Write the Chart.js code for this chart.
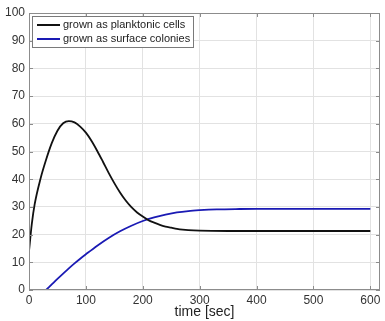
<!DOCTYPE html>
<html>
<head>
<meta charset="utf-8">
<script src="https://cdn.jsdelivr.net/npm/chart.js@4"></script>
<style>
  html, body { margin: 0; padding: 0; background: #fff; }
  #wrap { width: 385px; height: 321px; }
</style>
</head>
<body>
<div id="wrap"><canvas id="chart" width="385" height="321"></canvas></div>
<script>
// values
const planktonicTime = [0, 5, 10, 20, 30, 40, 50, 60, 70, 80, 90, 100, 110, 120, 130, 140, 150, 160, 170, 180, 190, 200, 210, 220, 230, 240, 250, 260, 270, 280, 300, 350, 400, 500, 600];
const planktonicVals = [14, 24, 31, 40, 47, 53, 57.5, 60.2, 61, 60.5, 59, 56.8, 53.8, 50.2, 46.3, 42.3, 38.6, 35.2, 32.3, 29.9, 28, 26.5, 25.2, 24.3, 23.5, 22.9, 22.5, 22.1, 21.8, 21.6, 21.4, 21.3, 21.3, 21.3, 21.3];
const colonyTime = [30, 40, 50, 60, 70, 80, 90, 100, 120, 140, 160, 180, 200, 220, 240, 260, 280, 300, 330, 370, 400, 500, 600];
const colonyVals = [0, 2, 4, 5.9, 7.8, 9.6, 11.3, 12.9, 16, 18.8, 21.2, 23.2, 24.9, 26.2, 27.2, 28, 28.5, 28.8, 29.1, 29.25, 29.3, 29.3, 29.3];
const seriesLabels = ['grown as planktonic cells', 'grown as surface colonies'];
const xTicks = [0, 100, 200, 300, 400, 500, 600];
const yTicks = [0, 10, 20, 30, 40, 50, 60, 70, 80, 90, 100];

const toPoints = (xs, ys) => xs.map((x, i) => ({ x: x, y: ys[i] }));

// box, inside ticks and legend drawn in MATLAB style
const matlabBox = {
    id: 'matlabBox',
    afterDraw(chart) {
        const { ctx, chartArea: a, scales } = chart;
        ctx.save();
        ctx.strokeStyle = '#8c8c8c';
        ctx.lineWidth = 1;
        ctx.strokeRect(a.left + 0.5, a.top + 0.5, a.right - a.left - 1, a.bottom - a.top - 1);
        ctx.beginPath();
        xTicks.forEach(v => {
            const px = Math.round(scales.x.getPixelForValue(v)) + 0.5;
            ctx.moveTo(px, a.bottom); ctx.lineTo(px, a.bottom - 4);
            ctx.moveTo(px, a.top); ctx.lineTo(px, a.top + 4);
        });
        yTicks.forEach(v => {
            const py = Math.round(scales.y.getPixelForValue(v)) + 0.5;
            ctx.moveTo(a.left, py); ctx.lineTo(a.left + 4, py);
            ctx.moveTo(a.right, py); ctx.lineTo(a.right - 4, py);
        });
        ctx.stroke();

        // legend inside top-left
        const lx = a.left + 3, ly = a.top + 3, lw = 161, lh = 31;
        ctx.fillStyle = '#fff';
        ctx.fillRect(lx, ly, lw, lh);
        ctx.strokeStyle = '#7a7a7a';
        ctx.strokeRect(lx + 0.5, ly + 0.5, lw, lh);
        ctx.font = '11px "Liberation Sans", Arial, sans-serif';
        ctx.textBaseline = 'middle';
        chart.data.datasets.forEach((ds, i) => {
            const yy = ly + 9 + i * 14;
            ctx.strokeStyle = ds.borderColor;
            ctx.lineWidth = 2;
            ctx.beginPath();
            ctx.moveTo(lx + 5, yy); ctx.lineTo(lx + 28, yy);
            ctx.stroke();
            ctx.fillStyle = '#222';
            ctx.fillText(ds.label, lx + 31, yy);
        });
        ctx.restore();
    }
};

new Chart(document.getElementById('chart'), {
    type: 'scatter',
    data: {
        datasets: [{
            label: seriesLabels[0],
            data: toPoints(planktonicTime, planktonicVals),
            showLine: true,
            borderColor: '#111111',
            borderWidth: 1.8,
            pointRadius: 0,
            cubicInterpolationMode: 'monotone'
        }, {
            label: seriesLabels[1],
            data: toPoints(colonyTime, colonyVals),
            showLine: true,
            borderColor: '#1a1ab4',
            borderWidth: 1.8,
            pointRadius: 0,
            cubicInterpolationMode: 'monotone'
        }]
    },
    options: {
        responsive: false,
        animation: false,
        layout: { padding: { top: 13, right: 5, left: 0, bottom: 0 } },
        plugins: { legend: { display: false }, tooltip: { enabled: false } },
        scales: {
            x: {
                type: 'linear', min: 0, max: 617,
                afterBuildTicks: s => { s.ticks = xTicks.map(v => ({ value: v })); },
                afterFit: s => { s.height = 31; },
                grid: { color: '#e2e2e2', tickLength: 0, drawTicks: false },
                border: { display: false },
                ticks: { color: '#333', padding: 3, maxRotation: 0, font: { family: '"Liberation Sans", Arial, sans-serif', size: 12 } },
                title: { display: true, text: 'time [sec]', color: '#222', padding: 0, font: { family: '"Liberation Sans", Arial, sans-serif', size: 14 } }
            },
            y: {
                min: 0, max: 100,
                afterBuildTicks: s => { s.ticks = yTicks.map(v => ({ value: v })); },
                afterFit: s => { s.width = 29; },
                grid: { color: '#e2e2e2', tickLength: 0, drawTicks: false },
                border: { display: false },
                ticks: { color: '#333', padding: 4, font: { family: '"Liberation Sans", Arial, sans-serif', size: 12 } }
            }
        }
    },
    plugins: [matlabBox]
});
</script>
</body>
</html>
